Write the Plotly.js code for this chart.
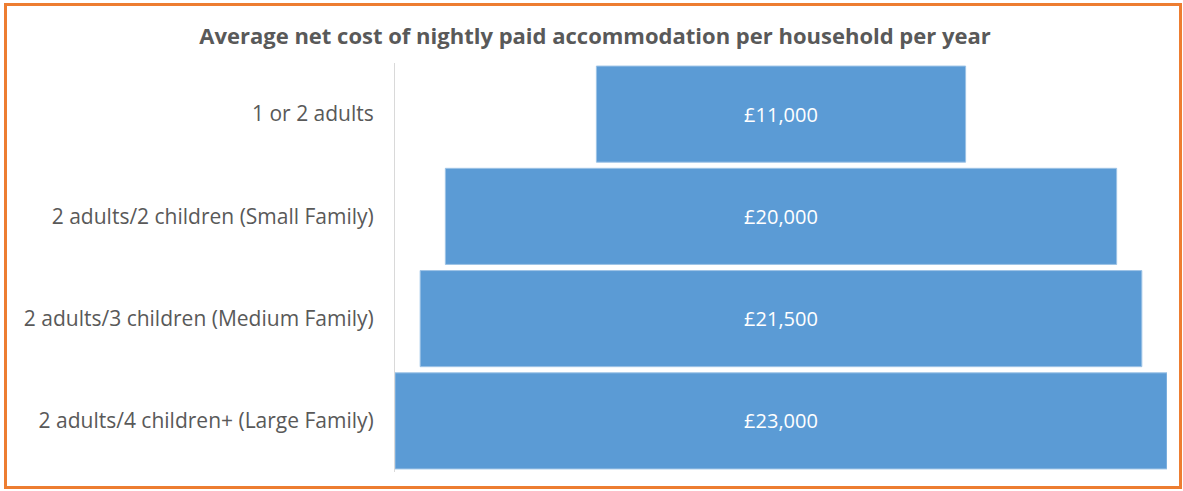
<!DOCTYPE html>
<html>
<head>
<meta charset="utf-8">
<script src="https://cdn.plot.ly/plotly-3.0.1.min.js"></script>
<style>
  html, body { margin: 0; padding: 0; background: #ffffff; }
  #chart { width: 1183px; height: 491px; }
  #frame { position: absolute; left: 4px; top: 3px; width: 1172px; height: 480px;
           border: 3px solid #ED7D31; pointer-events: none; }
</style>
</head>
<body>
<div id="chart"></div>
<div id="frame"></div>
<script>
const categories = [
  "1 or 2 adults",
  "2 adults/2 children (Small Family)",
  "2 adults/3 children (Medium Family)",
  "2 adults/4 children+ (Large Family)"
];
const costs = [11000, 20000, 21500, 23000];
const costLabels = ["£11,000", "£20,000", "£21,500", "£23,000"];

const FONT = "'Open Sans', Lato, 'DejaVu Sans', sans-serif";

const trace = {
  type: "funnel",
  y: categories,
  x: costs,
  text: costLabels,
  textinfo: "text",
  textposition: "inside",
  insidetextanchor: "middle",
  insidetextfont: { family: FONT, size: 20, color: "#ffffff" },
  constraintext: "none",
  hoverinfo: "y+text",
  marker: { color: "#5B9BD5", line: { color: "#9DC3E6", width: 1 } },
  connector: { visible: false }
};

const layout = {
  width: 1183,
  height: 491,
  paper_bgcolor: "#ffffff",
  plot_bgcolor: "#ffffff",
  margin: { l: 395, r: 16, t: 63, b: 19 },
  funnelgap: 0.06,
  showlegend: false,
  title: {
    text: "<b>Average net cost of nightly paid accommodation per household per year</b>",
    x: 0.503,
    xanchor: "center",
    y: 0.927,
    yanchor: "middle",
    font: { family: FONT, size: 22, color: "#595959" }
  },
  xaxis: {
    range: [-11500, 11500],
    visible: false,
    fixedrange: true
  },
  yaxis: {
    showline: true,
    linecolor: "#D9D9D9",
    linewidth: 1,
    showgrid: false,
    zeroline: false,
    ticks: "",
    ticklabelstandoff: 16,
    tickfont: { family: FONT, size: 21, color: "#595959" },
    fixedrange: true
  }
};

Plotly.newPlot("chart", [trace], layout, { displayModeBar: false, staticPlot: true });
</script>
</body>
</html>
